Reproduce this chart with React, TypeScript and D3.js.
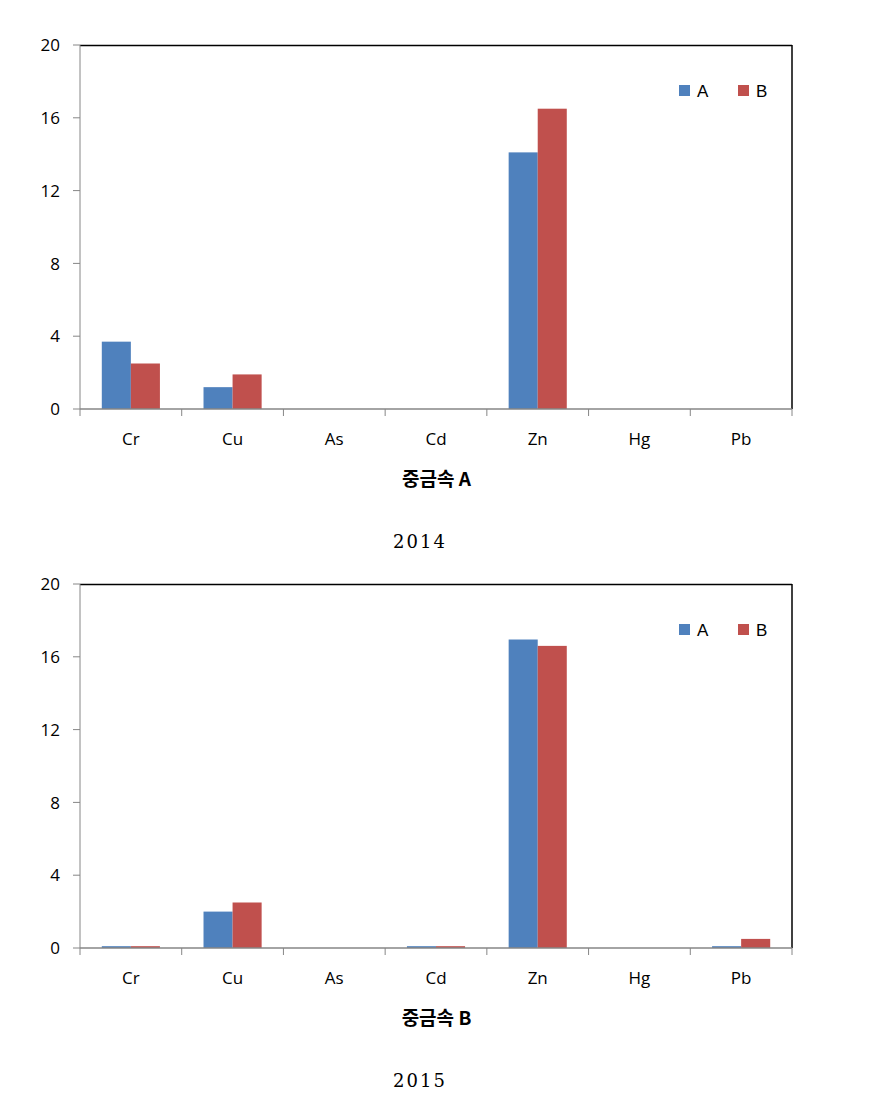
import React, { useEffect, useRef } from "react";
import * as d3 from "d3";

const categories = ["Cr", "Cu", "As", "Cd", "Zn", "Hg", "Pb"];
const seriesNames = ["A", "B"];
const values2014A = [3.7, 1.2, 0, 0, 14.1, 0, 0];
const values2014B = [2.5, 1.9, 0, 0, 16.5, 0, 0];
const values2015A = [0.1, 2.0, 0, 0.1, 16.95, 0, 0.1];
const values2015B = [0.1, 2.5, 0, 0.1, 16.6, 0, 0.5];
const yTicks = [0, 4, 8, 12, 16, 20];
const colors = ["#4F81BD", "#C0504D"];

const panels = [
  { top: 45, a: values2014A, b: values2014B, title: "중금속 A", year: "2014" },
  { top: 584, a: values2015A, b: values2015B, title: "중금속 B", year: "2015" },
];

export default function App() {
  const ref = useRef<SVGSVGElement>(null);
  useEffect(() => {
    const svg = d3.select(ref.current);
    svg.selectAll("*").remove();
    const left = 80, right = 792, h = 364;
    const labelFont = "'Open Sans', sans-serif";
    panels.forEach((p) => {
      const g = svg.append("g").attr("transform", `translate(0,${p.top})`);
      const y = d3.scaleLinear().domain([0, 20]).range([h, 0]);
      const x = d3.scaleBand().domain(categories).range([left, right]);
      const x1 = d3.scaleBand().domain(seriesNames).range([0, x.bandwidth()]).paddingOuter(0.75).paddingInner(0);
      categories.forEach((c, i) => {
        const vals = [p.a[i], p.b[i]];
        vals.forEach((v, k) => {
          if (v <= 0) return;
          g.append("rect")
            .attr("x", x(c)! + x1(seriesNames[k])!)
            .attr("width", x1.bandwidth())
            .attr("y", y(v))
            .attr("height", y(0) - y(v))
            .attr("fill", colors[k]);
        });
      });
      g.append("line").attr("x1", left).attr("x2", right).attr("y1", 0.5).attr("y2", 0.5).attr("stroke", "#000").attr("stroke-width", 1.5);
      g.append("line").attr("x1", right).attr("x2", right).attr("y1", 0).attr("y2", h).attr("stroke", "#000").attr("stroke-width", 1.5);
      g.append("line").attr("x1", left).attr("x2", left).attr("y1", 0).attr("y2", h).attr("stroke", "#868686");
      yTicks.forEach((t) => {
        g.append("line").attr("x1", left - 7).attr("x2", left).attr("y1", y(t)).attr("y2", y(t)).attr("stroke", "#868686");
        g.append("text").attr("x", 60).attr("y", y(t)).attr("dy", "0.36em").attr("text-anchor", "end")
          .attr("font-family", labelFont).attr("font-size", 17).attr("fill", "#000").text(String(t));
      });
      g.append("line").attr("x1", left).attr("x2", right).attr("y1", h).attr("y2", h).attr("stroke", "#868686").attr("stroke-width", 1.5);
      const edges = categories.map((c) => x(c)!).concat([right]);
      edges.forEach((e) => {
        g.append("line").attr("x1", e).attr("x2", e).attr("y1", h).attr("y2", h + 7).attr("stroke", "#868686");
      });
      categories.forEach((c) => {
        g.append("text").attr("x", x(c)! + x.bandwidth() / 2).attr("y", h + 30).attr("dy", "0.36em")
          .attr("text-anchor", "middle").attr("font-family", labelFont).attr("font-size", 17).attr("fill", "#000").text(c);
      });
      g.append("text").attr("x", 436.5).attr("y", h + 70).attr("dy", "0.36em").attr("text-anchor", "middle")
        .attr("font-family", "'Noto Sans CJK KR', sans-serif").attr("font-weight", "bold").attr("font-size", 19)
        .attr("fill", "#000").text(p.title);
      seriesNames.forEach((s, k) => {
        const lx = 679 + k * 59;
        g.append("rect").attr("x", lx).attr("y", 40).attr("width", 11).attr("height", 11).attr("fill", colors[k]);
        g.append("text").attr("x", lx + 18).attr("y", 45.5).attr("dy", "0.36em").attr("font-family", "'Liberation Sans', Arial, sans-serif")
          .attr("font-size", 17).attr("fill", "#000").text(s);
      });
      g.append("text").attr("x", 420).attr("y", h + 133).attr("dy", "0.36em").attr("text-anchor", "middle")
        .attr("font-family", "'DejaVu Serif', serif").attr("font-size", 18).attr("letter-spacing", 2).attr("fill", "#000").text(p.year);
    });
  }, []);
  return (
    <svg ref={ref} width={883} height={1113} style={{ position: "absolute", left: 0, top: 0, background: "#fff" }} />
  );
}
